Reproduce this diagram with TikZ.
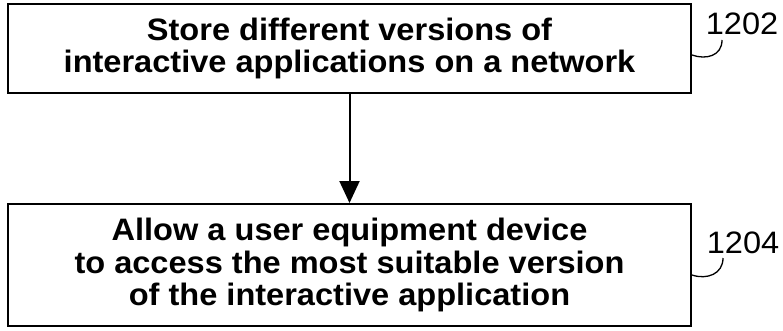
\documentclass[tikz,border=0pt]{standalone}
\usepackage{fontspec}
\setmainfont{Liberation Sans}
\newfontfamily\wideface[FakeStretch=1.05]{Liberation Sans}
\usetikzlibrary{arrows.meta}
\begin{document}
\begin{tikzpicture}[x=1pt,y=1pt,
  stepbox/.style={draw,line width=2pt,minimum width=683pt,inner sep=0pt,align=center,
    font=\wideface\fontsize{31}{32.5}\selectfont\bfseries},
  reflabel/.style={inner sep=0pt,font=\wideface\fontsize{31}{32}\selectfont},
  hook/.style={line width=1.3pt},
  flow/.style={line width=2pt,-{Triangle[length=22pt,width=20pt]}}]
\useasboundingbox (0,0) rectangle (783,330);
\node[stepbox,minimum height=89pt] (b1) at (349.5,281.5)
  {Store different versions of\\interactive applications on a network};
\node[stepbox,minimum height=122pt] (b2) at (349.5,65)
  {Allow a user equipment device\\to access the most suitable version\\of the interactive application};
\draw[flow] (b1.south) -- (b2.north);
\node[reflabel] (l1) at (742,306) {1202};
\node[reflabel] (l2) at (743,87) {1204};
\coordinate (h1s) at ([yshift=-6.5pt]b1.east);
\coordinate (h1e) at (722,290);
\coordinate (h2s) at ([yshift=-10pt]b2.east);
\coordinate (h2e) at (723,72);
\draw[hook] (h1s) .. controls (706,270) and (722,274) .. (h1e);
\draw[hook] (h2s) .. controls (707,50) and (723,56) .. (h2e);
\end{tikzpicture}
\end{document}
